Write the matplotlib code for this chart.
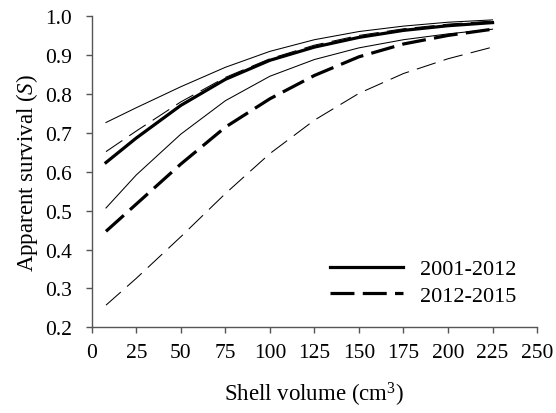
import matplotlib
matplotlib.use("Agg")
import matplotlib.pyplot as plt

plt.rcParams['font.family'] = ['Liberation Serif', 'DejaVu Serif']
plt.rcParams['mathtext.fontset'] = 'custom'
plt.rcParams['mathtext.rm'] = 'Liberation Serif'
plt.rcParams['mathtext.it'] = 'Liberation Serif:italic'

volume = [8, 25, 50, 75, 100, 125, 150, 175, 200, 225]
s0112_mean = [0.624, 0.687, 0.771, 0.838, 0.887, 0.921, 0.946, 0.964, 0.976, 0.984]
s0112_upper = [0.727, 0.765, 0.819, 0.869, 0.910, 0.940, 0.961, 0.975, 0.985, 0.991]
s0112_lower = [0.507, 0.592, 0.697, 0.783, 0.846, 0.889, 0.919, 0.940, 0.955, 0.967]
s1215_mean = [0.447, 0.517, 0.620, 0.715, 0.788, 0.848, 0.896, 0.929, 0.951, 0.967]
s1215_upper = [0.652, 0.705, 0.780, 0.843, 0.891, 0.926, 0.951, 0.968, 0.980, 0.988]
s1215_lower = [0.257, 0.326, 0.433, 0.544, 0.647, 0.733, 0.802, 0.853, 0.891, 0.921]

xticks = [0, 25, 50, 75, 100, 125, 150, 175, 200, 225, 250]
yticks = [0.2, 0.3, 0.4, 0.5, 0.6, 0.7, 0.8, 0.9, 1.0]

fig = plt.figure(figsize=(5.56, 4.14), dpi=100)
ax = fig.add_axes([0.165, 0.207, 0.801, 0.751])

thin = 0.75
thick = 2.3
ax.plot(volume, s0112_upper, color='black', lw=thin)
ax.plot(volume, s0112_lower, color='black', lw=thin)
ax.plot(volume, s1215_upper, color='black', lw=thin, linestyle=(0, (19, 8)))
ax.plot(volume, s1215_lower, color='black', lw=thin, linestyle=(0, (19, 8)))
ax.plot(volume, s0112_mean, color='black', lw=thick, label='2001-2012')
ax.plot(volume, s1215_mean, color='black', lw=thick, linestyle=(0, (7.5, 2.6)),
        label='2012-2015')

ax.set_xlim(0, 250)
ax.set_ylim(0.2, 1.0)
ax.set_xticks(xticks)
ax.set_yticks(yticks)
ax.set_yticklabels([f"{v:.1f}" for v in yticks])
for s in ['top', 'right']:
    ax.spines[s].set_visible(False)
for s in ['left', 'bottom']:
    ax.spines[s].set_color('#555555')
    ax.spines[s].set_linewidth(1.0)
ax.tick_params(direction='out', length=4, width=1.0, color='#555555',
               labelsize=15.5)
ax.tick_params(axis='y', pad=10)
ax.tick_params(axis='x', pad=7)

ax.set_xlabel('Shell volume (cm$^3$)', fontsize=16.5, labelpad=13)
ax.set_ylabel('Apparent survival ($S$)', fontsize=16.5, labelpad=4)

ax.legend(loc='upper left', bbox_to_anchor=(0.535, 0.22), frameon=False,
          fontsize=16, handlelength=3.3, handletextpad=0.77, borderpad=0,
          borderaxespad=0, labelspacing=0.25)

fig.savefig('out.png', dpi=100)
